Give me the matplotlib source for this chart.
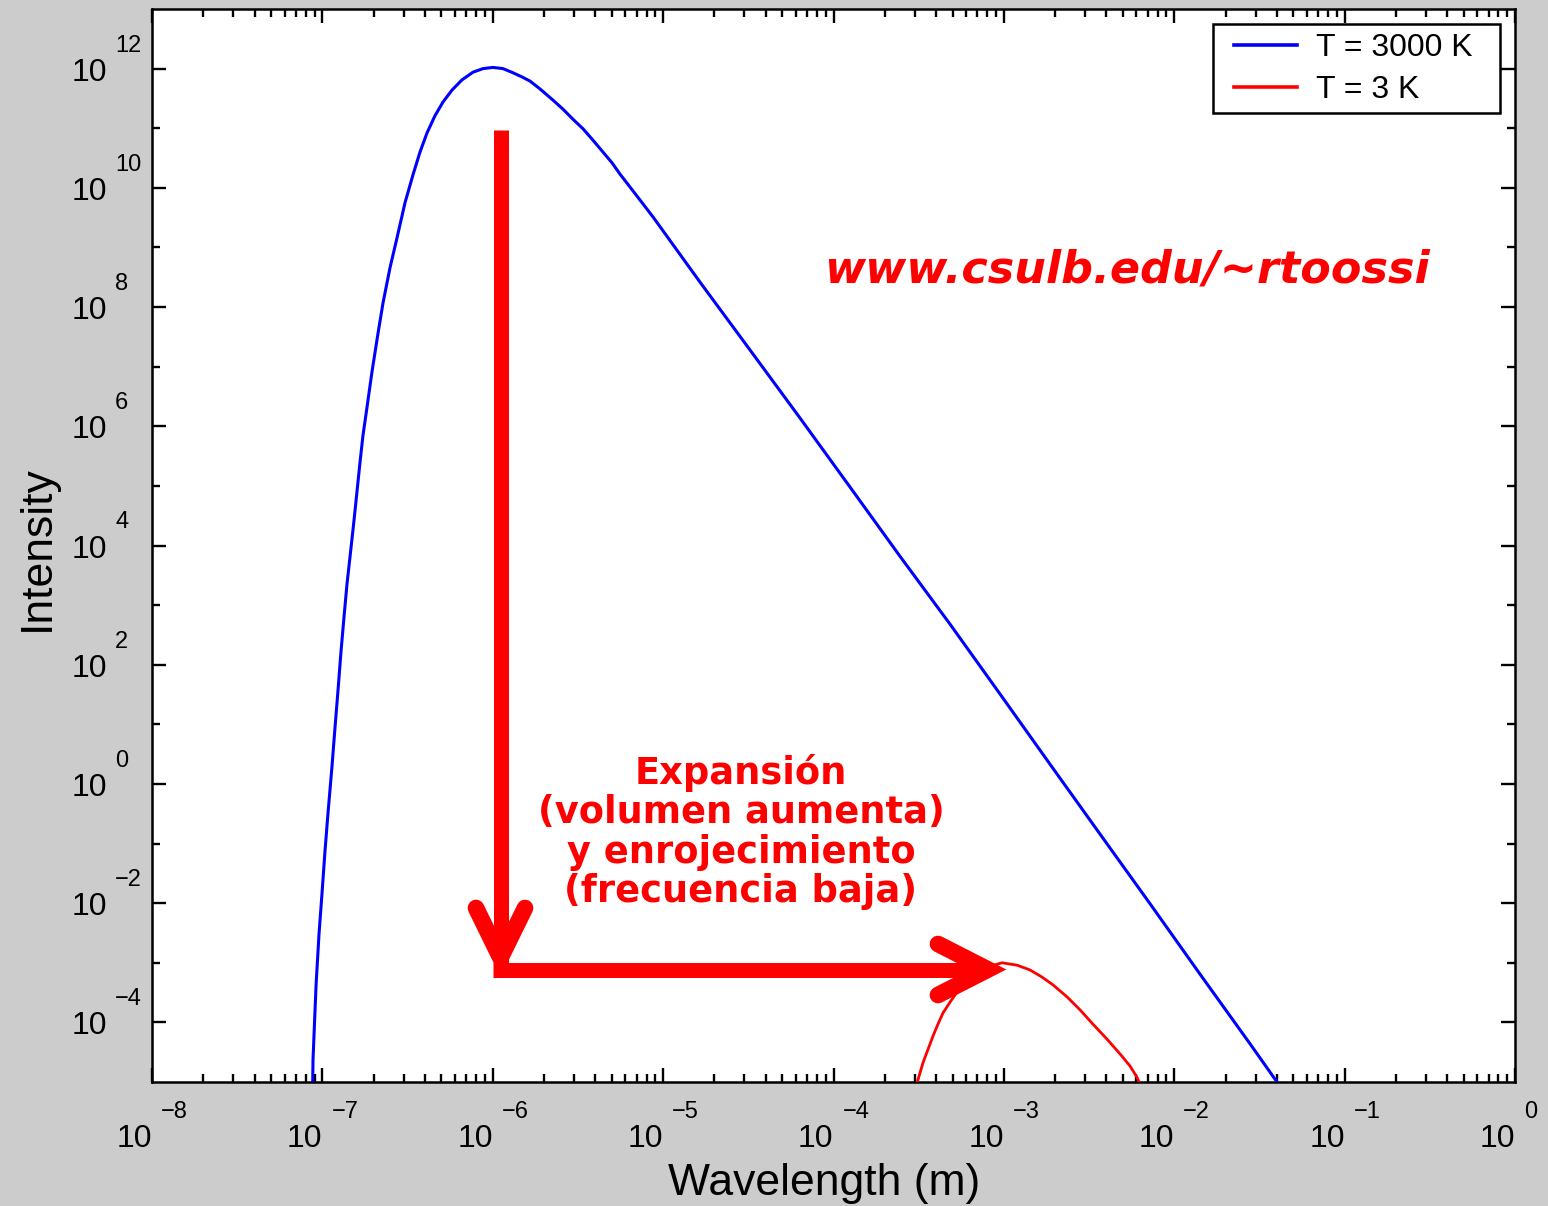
import matplotlib
matplotlib.use("Agg")
import matplotlib.pyplot as plt
from matplotlib.ticker import FixedLocator, LogLocator, NullFormatter
from matplotlib.transforms import offset_copy
from matplotlib.patches import Rectangle
import numpy as np

# ---------------- data (in decades) ----------------
# T = 3000 K curve: log10(wavelength / m), log10(intensity)
log_wl_3000 = [-7.058, -7.055, -7.037, -7.020, -7.002, -6.985, -6.967, -6.944, -6.926,
               -6.908, -6.891, -6.873, -6.856, -6.832, -6.814, -6.797, -6.779, -6.762,
               -6.738, -6.709, -6.674, -6.644, -6.603, -6.562, -6.515, -6.468, -6.427,
               -6.386, -6.339, -6.292, -6.239, -6.181, -6.116, -6.057, -5.999, -5.940,
               -5.881, -5.828, -5.781, -5.723, -5.646, -5.588, -5.529, -5.470, -5.412,
               -5.353, -5.300, -5.253, -5.153, -5.059, -4.948, -4.784, -4.490, -4.197,
               -3.903, -3.610, -3.316, -3.023, -2.729, -2.436, -2.142, -1.849, -1.555,
               -1.397, -1.321]
log_I_3000 = [-5.30, -4.63, -3.37, -2.53, -1.83, -1.14, -0.49, 0.28, 0.94,
              1.58, 2.21, 2.80, 3.34, 3.96, 4.43, 4.90, 5.40, 5.84,
              6.32, 6.91, 7.55, 8.07, 8.66, 9.16, 9.75, 10.22, 10.60,
              10.92, 11.21, 11.44, 11.64, 11.81, 11.94, 12.00, 12.02, 12.00,
              11.93, 11.86, 11.79, 11.66, 11.47, 11.32, 11.15, 10.99, 10.80,
              10.60, 10.42, 10.23, 9.86, 9.51, 9.07, 8.42, 7.28, 6.14,
              4.98, 3.82, 2.68, 1.51, 0.33, -0.84, -2.01, -3.19, -4.36,
              -5.00, -5.30]

# T = 3 K curve
log_wl_3 = [-3.522, -3.510, -3.475, -3.445, -3.416, -3.387, -3.357, -3.316, -3.275,
            -3.222, -3.170, -3.093, -3.011, -2.923, -2.847, -2.776, -2.712, -2.630,
            -2.553, -2.477, -2.395, -2.318, -2.260, -2.219, -2.172]
log_I_3 = [-5.22, -5.02, -4.68, -4.45, -4.23, -4.03, -3.84, -3.66, -3.49,
           -3.34, -3.21, -3.07, -3.00, -3.04, -3.12, -3.24, -3.37, -3.57,
           -3.79, -4.03, -4.28, -4.53, -4.73, -4.92, -5.22]

series_labels = ["T = 3000 K", "T = 3 K"]
x_tick_exponents = [-8, -7, -6, -5, -4, -3, -2, -1, 0]
y_tick_exponents = [-4, -2, 0, 2, 4, 6, 8, 10, 12]
xlabel = "Wavelength (m)"
ylabel = "Intensity"
note_text = "Expansión\n(volumen aumenta)\ny enrojecimiento\n(frecuencia baja)"
url_text = "www.csulb.edu/~rtoossi"

wl_3000 = 10.0 ** np.array(log_wl_3000)
I_3000 = 10.0 ** np.array(log_I_3000)
wl_3 = 10.0 ** np.array(log_wl_3)
I_3 = 10.0 ** np.array(log_I_3)

# ---------------- figure ----------------
W, H = 1548, 1206
fig = plt.figure(figsize=(W / 100, H / 100), dpi=100, facecolor="#cccccc")
L, R, T, B = 152, 1515, 9, 1082
ax = fig.add_axes([L / W, 1 - B / H, (R - L) / W, (B - T) / H])
ax.set_facecolor("white")

ax.plot(wl_3000, I_3000, color="#0000ff", lw=2.2, label=series_labels[0], zorder=3)
ax.plot(wl_3, I_3, color="#ff0000", lw=2.0, label=series_labels[1], zorder=3)

ax.set_xscale("log")
ax.set_yscale("log")
ax.set_xlim(1e-8, 1)
ax.set_ylim(1e-5, 1e13)

ax.xaxis.set_major_locator(FixedLocator([10.0 ** e for e in x_tick_exponents]))
ax.xaxis.set_minor_locator(LogLocator(base=10, subs=np.arange(2, 10), numticks=100))
ax.yaxis.set_major_locator(FixedLocator([10.0 ** e for e in y_tick_exponents]))
ax.yaxis.set_minor_locator(FixedLocator([10.0 ** (e + 1) for e in y_tick_exponents[:-1]]))
for a in (ax.xaxis, ax.yaxis):
    a.set_major_formatter(NullFormatter())
    a.set_minor_formatter(NullFormatter())
ax.tick_params(which="both", direction="in", top=True, right=True, width=1.7, color="black")
ax.tick_params(which="major", length=10)
ax.tick_params(which="minor", length=6)
for s in ax.spines.values():
    s.set_linewidth(1.8)
    s.set_color("black")

FONT = "Liberation Sans"


def exp_str(e):
    return str(e).replace("-", "\u2212")


# manual tick labels "10" + raised exponent
xt = ax.get_xaxis_transform()
yt = ax.get_yaxis_transform()
for e in x_tick_exponents:
    ax.text(10.0 ** e, 0, "10", transform=offset_copy(xt, fig=fig, x=0, y=-65, units="dots"),
            ha="right", va="baseline", fontsize=23, family=FONT, clip_on=False)
    ax.text(10.0 ** e, 0, exp_str(e), transform=offset_copy(xt, fig=fig, x=9, y=-36, units="dots"),
            ha="left", va="baseline", fontsize=17, family=FONT, clip_on=False)
for e in y_tick_exponents:
    ax.text(0, 10.0 ** e, "10", transform=offset_copy(yt, fig=fig, x=-45, y=-12, units="dots"),
            ha="right", va="baseline", fontsize=23, family=FONT, clip_on=False)
    ax.text(0, 10.0 ** e, exp_str(e), transform=offset_copy(yt, fig=fig, x=-37, y=17, units="dots"),
            ha="left", va="baseline", fontsize=17, family=FONT, clip_on=False)

ax.set_xlabel(xlabel, fontsize=32, family=FONT, va="center")
ax.xaxis.set_label_coords((824 - L) / (R - L), (B - 1184) / (B - T))
ax.set_ylabel(ylabel, fontsize=32, family=FONT, va="center", rotation_mode="anchor")
ax.yaxis.set_label_coords((37 - L) / (R - L), (B - 548) / (B - T))


# ---------------- annotations (pixel positions -> axes fraction) ----------------
def px(x, y):
    return (x - L) / (R - L), (B - y) / (B - T)


# legend: entries from matplotlib, frame drawn as a rectangle
x0, y0 = px(1213, 113)
x1, y1 = px(1500, 24)
ax.add_patch(Rectangle((x0, y0), x1 - x0, y1 - y0, transform=ax.transAxes,
                       facecolor="white", edgecolor="black", lw=1.8, zorder=6, clip_on=False))
leg = ax.legend(loc="upper left", bbox_to_anchor=px(1234, 33),
                prop={"family": FONT, "size": 23}, frameon=False,
                handlelength=1.97, handletextpad=0.6, borderpad=0.0,
                labelspacing=0.38, borderaxespad=0)
leg.set_zorder(7)
for h in leg.get_lines():
    h.set_linewidth(2.6)


def seg(points, lw, cap="butt", join="miter"):
    xs, ys = zip(*[px(*p) for p in points])
    ax.plot(xs, ys, transform=ax.transAxes, color="#ff0000", lw=lw,
            solid_capstyle=cap, solid_joinstyle=join, zorder=5, clip_on=False)


seg([(500.5, 130), (500.5, 977)], 10.8)
seg([(493, 969.5), (985, 969.5)], 10.8)
seg([(476, 908), (500.5, 958), (525, 908)], 12, cap="round")
seg([(938, 944), (988, 969.5), (938, 995)], 12, cap="round")

ax.text(*px(741, 832), note_text, transform=ax.transAxes, ha="center", va="center",
        multialignment="center", color="#ff0000", fontsize=26.5, fontweight="bold",
        family="DejaVu Sans", linespacing=1.08, zorder=6)
ax.text(*px(1127, 282), url_text, transform=ax.transAxes, ha="center", va="baseline",
        color="#ff0000", fontsize=32, fontweight="bold", fontstyle="italic",
        family="DejaVu Sans", zorder=6)

fig.savefig("out.png", dpi=100, facecolor=fig.get_facecolor())
